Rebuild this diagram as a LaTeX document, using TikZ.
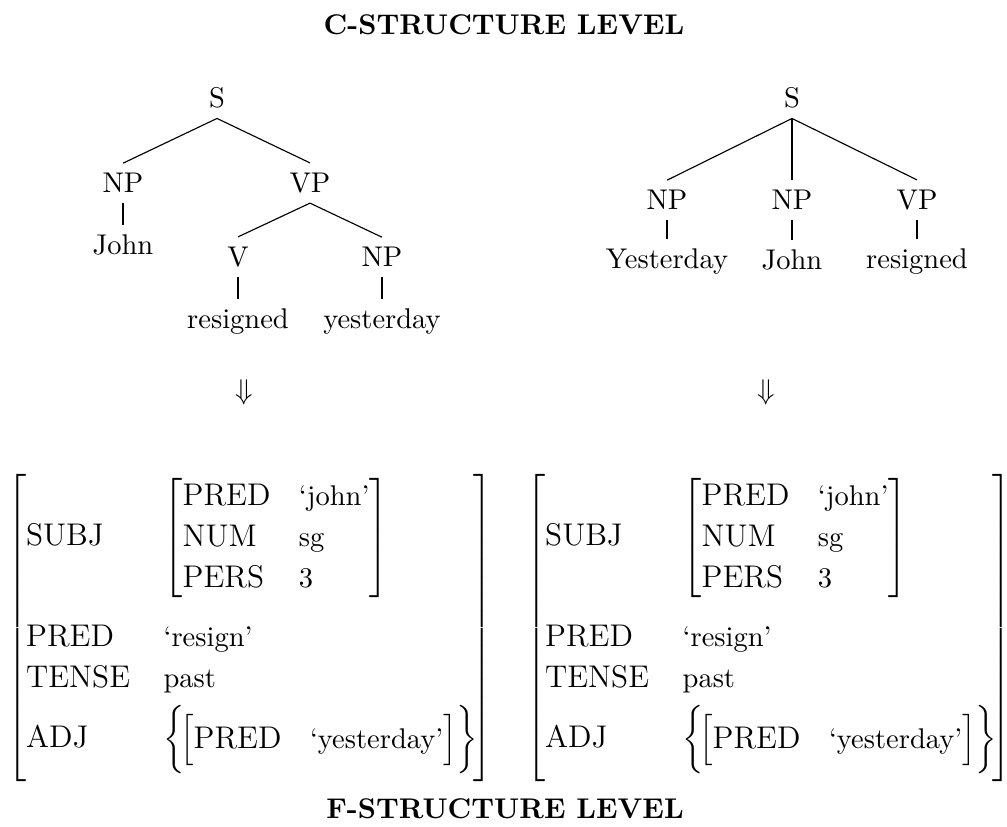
\documentclass[tikz,border=0pt]{standalone}
\usepackage{amssymb}
\usepackage{tikz}
\usepackage{amsmath}

\newcommand{\feat}[1]{\text{\fontsize{11}{13}\selectfont #1}}
\newcommand{\val}[1]{\text{#1}}
\newcommand{\fstruct}{%
  $\renewcommand{\arraystretch}{1.2}%
  \left[\begin{array}{@{}l@{\hspace{11.75pt}}l@{}}
    \feat{SUBJ}\rule[-25.5pt]{0pt}{52pt} & \left[\begin{array}{@{}ll@{}}
        \feat{PRED} & \val{`john'}\\
        \feat{NUM} & \val{sg}\\
        \feat{PERS} & \val{3}
      \end{array}\right]\\
    \feat{PRED} & \val{`resign'}\\
    \feat{TENSE} & \val{past}\\[2pt]
    \feat{ADJ}\rule[-13.8pt]{0pt}{13.8pt} & \biggl\{\!\Bigl[\begin{array}{@{}ll@{}}
        \feat{PRED} & \val{`yesterday'}
      \end{array}\Bigr]\biggr\}
  \end{array}\hspace{-1.5pt}\right]$}

\begin{document}
\begin{tikzpicture}[x=0.3509pt,y=-0.3509pt]

        \useasboundingbox (0,0) rectangle (1007,826);

        \node (ctitle) at (504,25) {\bfseries C-STRUCTURE LEVEL};
        \node (ftitle) at (505,809) {\bfseries F-STRUCTURE LEVEL};

        % Left tree
        \node (s1) at (217,98) {S};
        \node (np1) at (123,183) {NP};
        \node (vp1) at (310,183) {VP};
        \node (john1) at (123,245) {John};
        \node (v1) at (238,257) {V};
        \node (np2) at (382,257) {NP};
        \node (res1) at (238,322) {resigned};
        \node (yes1) at (382,322) {yesterday};

        % Right tree
        \node (s2) at (792,98) {S};
        \node (np3) at (667,200) {NP};
        \node (np4) at (792,200) {NP};
        \node (vp2) at (917,200) {VP};
        \node (yes2) at (667,262) {Yesterday};
        \node (john2) at (792,260) {John};
        \node (res2) at (917,262) {resigned};

        \foreach \a/\b in {s1/np1,s1/vp1,np1/john1,vp1/v1,vp1/np2,v1/res1,np2/yes1,
                           s2/np3,s2/np4,s2/vp2,np3/yes2,np4/john2,vp2/res2}{
            \draw (\a.south) -- (\b.north);
        }

        \node (arr1) at (244,392) {$\Downarrow$};
        \node (arr2) at (766,392) {$\Downarrow$};

        % F-structures
        \node[inner sep=0pt] (avm1) at (250,628) {\fstruct};
        \node[inner sep=0pt] (avm2) at (769,628) {\fstruct};

\end{tikzpicture}
\end{document}
